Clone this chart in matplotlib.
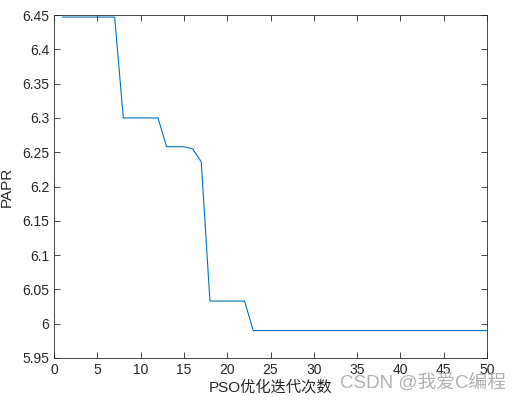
import matplotlib.pyplot as plt
import numpy as np

plt.rcParams["font.family"] = ["Liberation Sans", "Noto Sans CJK SC", "DejaVu Sans"]

# best PAPR value after each PSO iteration
iterations = np.arange(1, 51)
papr = np.array(
    [6.447] * 7
    + [6.300] * 5
    + [6.258] * 3
    + [6.255, 6.236]
    + [6.033] * 5
    + [5.990] * 28
)

x_ticks = np.arange(0, 51, 5)
y_ticks = np.arange(5.95, 6.451, 0.05)

fig = plt.figure(figsize=(5.23, 4.03), dpi=100)
ax = fig.add_axes([0.1033, 0.1117, 0.828, 0.851])
ax.plot(iterations, papr, color="#0072BD", lw=0.8)

ax.set_xlim(0, 50)
ax.set_ylim(5.95, 6.45)
ax.set_xticks(x_ticks)
ax.set_yticks(y_ticks)
ax.set_yticklabels([f"{v:g}" for v in np.round(y_ticks, 2)])
ax.tick_params(direction="in", length=4, width=0.6, labelsize=10, colors="#262626",
               top=True, right=True)
for s in ax.spines.values():
    s.set_linewidth(0.6)
    s.set_color("#262626")

ax.set_xlabel("PSO优化迭代次数", fontsize=11, color="#262626", labelpad=2)
ax.set_ylabel("PAPR", fontsize=11, color="#262626", labelpad=6)

fig.text(0.967, 0.05, "CSDN @我爱C编程", fontsize=13.5, color="#b0b0b0",
         ha="right", va="center")

fig.savefig("out.png", dpi=100)
